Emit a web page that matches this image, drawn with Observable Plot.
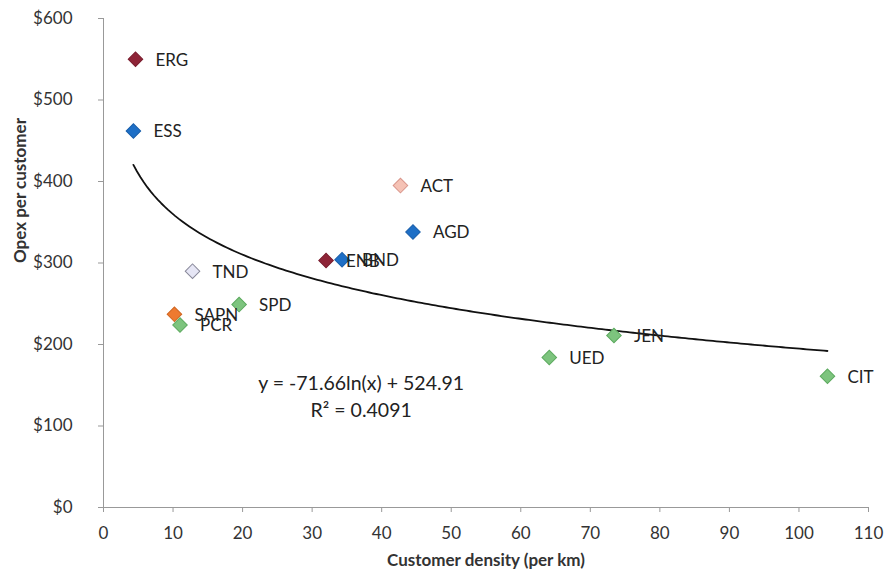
<!DOCTYPE html>
<html><head><meta charset="utf-8">
<script src="https://cdn.jsdelivr.net/npm/d3@7"></script>
<script src="https://cdn.jsdelivr.net/npm/@observablehq/plot@0.6"></script>
<style>body{margin:0;background:#fff;}</style>
</head><body><div id="chart"></div>
<script>
const names   = ["ERG","ESS","ACT","AGD","ENB","BND","TND","SPD","SAPN","PCR","UED","JEN","CIT"];
const density = [4.6, 4.3, 42.7, 44.5, 32.0, 34.3, 12.8, 19.5, 10.2, 11.0, 64.1, 73.4, 104.1];
const opex    = [550, 462, 395, 338, 303, 304, 290, 249, 237, 224, 184, 211, 161];
const fills   = ["#8e2437","#1e6fc6","#f5c2b5","#1e6fc6","#8e2437","#1e6fc6","#e6e6f5","#7dc47e","#ee7a30","#7dc47e","#7dc47e","#7dc47e","#7dc47e"];
const strokes = ["#7a1d2e","#1a5fab","#d9958a","#1a5fab","#7a1d2e","#1a5fab","#888899","#5daa5f","#d0651f","#5daa5f","#5daa5f","#5daa5f","#5daa5f"];
const xTicks = [0,10,20,30,40,50,60,70,80,90,100,110];
const yTicks = [0,100,200,300,400,500,600];
const trendSlope = -71.66, trendIntercept = 524.91, rSquared = 0.4091;
const trendRange = [4.3, 104.1];
const eqLabel = `y = ${trendSlope}ln(x) + ${trendIntercept}`;
const r2Label = `R² = ${rSquared}`;
const xTitle = "Customer density (per km)";
const yTitle = "Opex per customer";

const pts = names.map((n, i) => ({name: n, x: density[i], y: opex[i], fill: fills[i], stroke: strokes[i]}));
const trend = d3.range(0, 201).map(i => {
  const x = trendRange[0] + (trendRange[1] - trendRange[0]) * i / 200;
  return {x, y: trendSlope * Math.log(x) + trendIntercept};
});

const chart = Plot.plot({
  width: 890, height: 583,
  marginTop: 18, marginBottom: 76, marginLeft: 103, marginRight: 22,
  style: {fontFamily: "Lato, 'Open Sans', sans-serif", fontSize: "17px", color: "#333", background: "#fff"},
  x: {domain: [0, 110], axis: null},
  y: {domain: [0, 600], axis: null},
  marks: [
    Plot.axisX({ticks: xTicks, tickSize: 5, tickPadding: 14, stroke: "#999", fill: "#333", label: null, tickFormat: d => String(d)}),
    Plot.axisY({ticks: yTicks, tickSize: 5, tickPadding: 26, stroke: "#999", fill: "#333", label: null, tickFormat: d => "$" + d}),
    Plot.ruleX([0], {stroke: "#999"}),
    Plot.ruleY([0], {stroke: "#999"}),
    Plot.line(trend, {x: "x", y: "y", stroke: "#111", strokeWidth: 1.8}),
    Plot.dot(pts, {x: "x", y: "y", symbol: "square", rotate: 45, r: 5.8, fill: d => d.fill, stroke: d => d.stroke, strokeWidth: 1}),
    Plot.text(pts, {x: "x", y: "y", text: "name", dx: 20, dy: 1, textAnchor: "start", fill: "#222"}),
    Plot.text([eqLabel], {x: 37.05, y: 152, text: d => d, fill: "#222", fontSize: 19.5}),
    Plot.text([r2Label], {x: 37.05, y: 119, text: d => d, fill: "#222", fontSize: 19.5}),
    Plot.text([xTitle], {frameAnchor: "bottom", dy: 58, text: d => d, fontWeight: "bold", fill: "#333"}),
    Plot.text([yTitle], {frameAnchor: "left", rotate: -90, dx: -83, text: d => d, fontWeight: "bold", fill: "#333"})
  ]
});
document.getElementById("chart").append(chart);
</script>
</body></html>
